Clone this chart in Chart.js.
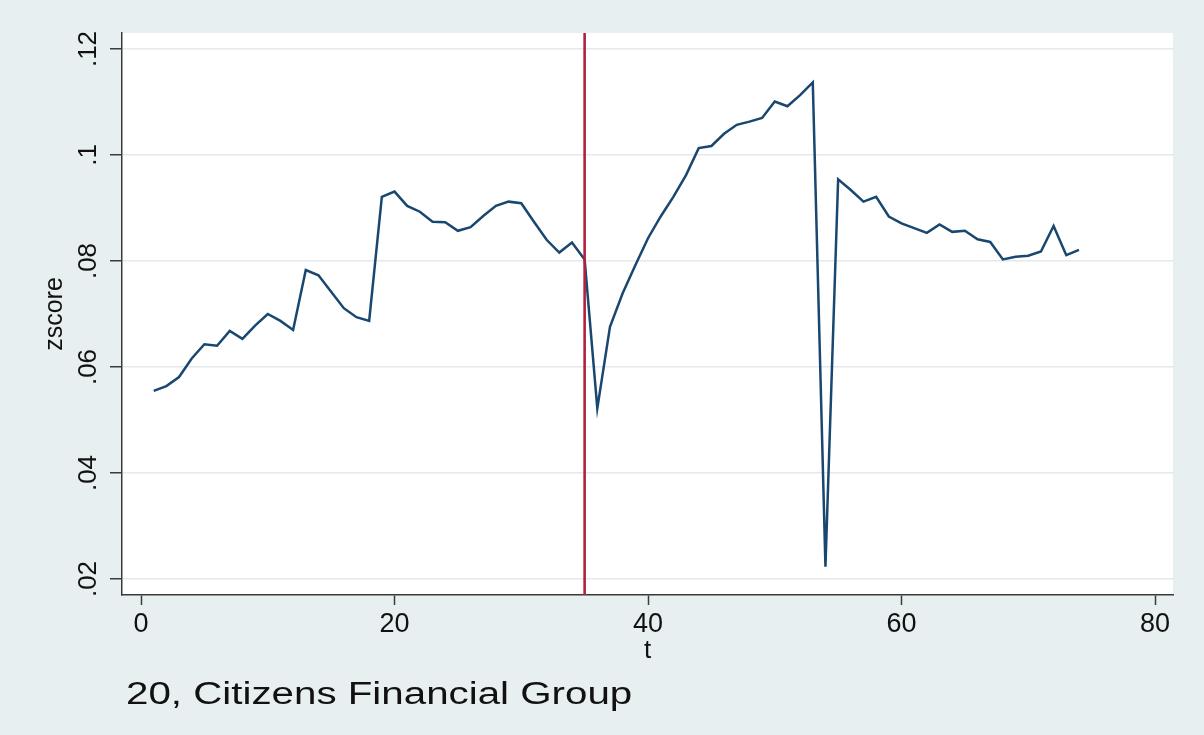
<!DOCTYPE html>
<html>
<head>
<meta charset="utf-8">
<title>zscore over t</title>
<script src="https://cdn.jsdelivr.net/npm/chart.js@4.4.1/dist/chart.umd.min.js"></script>
<style>
  html, body { margin: 0; padding: 0; background: #E6EEF0; }
  #wrap { width: 1204px; height: 735px; position: relative; }
</style>
</head>
<body>
<div id="wrap"><canvas id="c" width="1204" height="735"></canvas></div>
<script>
// Period index
const tValues = [
  1, 2, 3, 4, 5, 6, 7, 8, 9, 10, 11, 12, 13, 14, 15, 16, 17, 18, 19, 20,
  21, 22, 23, 24, 25, 26, 27, 28, 29, 30, 31, 32, 33, 34, 35, 36, 37, 38, 39, 40,
  41, 42, 43, 44, 45, 46, 47, 48, 49, 50, 51, 52, 53, 54, 55, 56, 57, 58, 59, 60,
  61, 62, 63, 64, 65, 66, 67, 68, 69, 70, 71, 72, 73, 74
];

// zscore for each period
const zscore = [
  0.0555, 0.0564, 0.0581, 0.0616, 0.0643, 0.0640, 0.0668, 0.0653, 0.0678, 0.0700,
  0.0687, 0.0670, 0.0783, 0.0773, 0.0742, 0.0711, 0.0694, 0.0687, 0.0921, 0.0931,
  0.0904, 0.0893, 0.0874, 0.0873, 0.0857, 0.0864, 0.0885, 0.0904, 0.0912, 0.0909,
  0.0874, 0.0840, 0.0816, 0.0835, 0.0803, 0.0522, 0.0676, 0.0739, 0.0792, 0.0843,
  0.0884, 0.0921, 0.0962, 0.1013, 0.1017, 0.1040, 0.1057, 0.1063, 0.1070, 0.1101,
  0.1092, 0.1113, 0.1137, 0.0223, 0.0954, 0.0934, 0.0912, 0.0921, 0.0884, 0.0871,
  0.0862, 0.0853, 0.0869, 0.0855, 0.0857, 0.0841, 0.0836, 0.0803, 0.0808, 0.0810,
  0.0818, 0.0866, 0.0811, 0.0821
];

// Reference period marked with a vertical line
const eventT = 35;

// Axis ticks and labels
const xTicks = [0, 20, 40, 60, 80];
const xTickLabels = ['0', '20', '40', '60', '80'];
const yTicks = [0.02, 0.04, 0.06, 0.08, 0.1, 0.12];
const yTickLabels = ['.02', '.04', '.06', '.08', '.1', '.12'];

// Axis ranges (with a small margin around the data)
const xRange = [-1.5, 81.42];
const yRange = [0.01698, 0.12302];

const xTitle = 't';
const yTitle = 'zscore';
const caption = '20, Citizens Financial Group';

const FONT = '"Liberation Sans", Arial, Helvetica, sans-serif';
const INK = '#111111';
const AXIS = '#3a3a3a';

// Paints the outer graph region and the white plot region, and the caption
const panelFill = {
  id: 'panelFill',
  beforeDraw(chart) {
    const { ctx, chartArea: a, width, height } = chart;
    ctx.save();
    ctx.fillStyle = '#E7EFF1';
    ctx.fillRect(0, 0, width, height);
    ctx.fillStyle = '#FFFFFF';
    ctx.fillRect(a.left, a.top, a.right - a.left, a.bottom - a.top);
    ctx.restore();
  },
  afterDraw(chart) {
    const { ctx } = chart;
    ctx.save();
    ctx.font = '31px ' + FONT;
    ctx.fillStyle = INK;
    ctx.textBaseline = 'alphabetic';
    ctx.textAlign = 'left';
    ctx.translate(126, 704);
    ctx.scale(1.3, 1);
    ctx.fillText(caption, 0, 0);
    ctx.restore();
  }
};

new Chart(document.getElementById('c'), {
  type: 'line',
  data: {
    datasets: [
      {
        label: 'event',
        data: [{ x: eventT, y: yRange[0] }, { x: eventT, y: yRange[1] }],
        borderColor: '#B3203C',
        borderWidth: 2.6,
        pointRadius: 0,
        tension: 0
      },
      {
        label: yTitle,
        data: tValues.map((t, i) => ({ x: t, y: zscore[i] })),
        borderColor: '#1A476F',
        borderWidth: 2.5,
        pointRadius: 0,
        tension: 0
      }
    ]
  },
  options: {
    responsive: false,
    animation: false,
    devicePixelRatio: 1,
    layout: { padding: { top: 33, right: 31, left: 0, bottom: 0 } },
    plugins: {
      legend: { display: false },
      tooltip: { enabled: false },
      title: { display: false }
    },
    scales: {
      x: {
        type: 'linear',
        min: xRange[0],
        max: xRange[1],
        afterBuildTicks: s => { s.ticks = xTicks.map(v => ({ value: v })); },
        afterFit: s => { s.height = 140; },
        grid: {
          drawOnChartArea: false,
          drawTicks: true,
          tickLength: 10,
          tickWidth: 1.5,
          tickColor: AXIS
        },
        border: { display: true, color: AXIS, width: 1.5 },
        ticks: {
          color: INK,
          font: { family: FONT, size: 27 },
          padding: 3,
          maxRotation: 0,
          minRotation: 0,
          callback: (v, i) => xTickLabels[i]
        },
        title: {
          display: true,
          text: xTitle,
          color: INK,
          font: { family: FONT, size: 26 },
          padding: { top: 0, bottom: 69 }
        }
      },
      y: {
        type: 'linear',
        min: yRange[0],
        max: yRange[1],
        afterBuildTicks: s => { s.ticks = yTicks.map(v => ({ value: v })); },
        afterFit: s => { s.width = 122; },
        grid: {
          color: '#E3EAED',
          lineWidth: 1.5,
          drawTicks: true,
          tickLength: 12,
          tickWidth: 1.5,
          tickColor: AXIS
        },
        border: { display: true, color: AXIS, width: 1.5 },
        ticks: {
          color: INK,
          font: { family: FONT, size: 26 },
          padding: 3,
          minRotation: 90,
          maxRotation: 90,
          crossAlign: 'center',
          callback: (v, i) => yTickLabels[i]
        },
        title: {
          display: true,
          text: yTitle,
          color: INK,
          font: { family: FONT, size: 25 },
          padding: { top: 40, bottom: 0 }
        }
      }
    }
  },
  plugins: [panelFill]
});
</script>
</body>
</html>
